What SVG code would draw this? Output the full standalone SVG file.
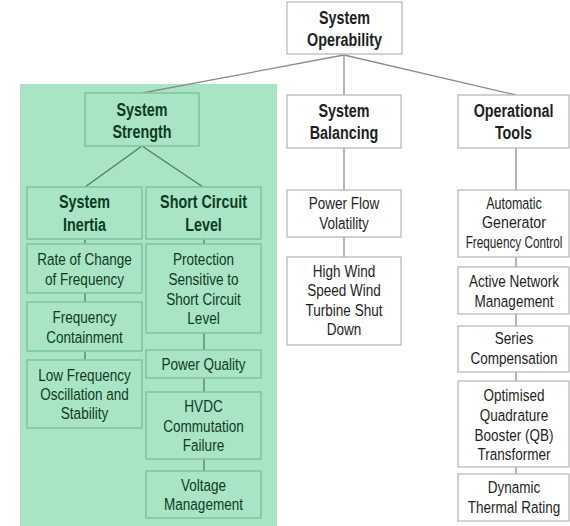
<svg xmlns="http://www.w3.org/2000/svg" width="570" height="526" viewBox="0 0 570 526">
<style>
text{font-family:"Liberation Sans",Arial,sans-serif;text-anchor:middle}
.h{font-size:17.5px;font-weight:bold}
.t{font-size:16.5px}
.w rect{fill:#ffffff;stroke:#b4b4b4;stroke-width:1.2}
.w text{fill:#1e1e1e}
.g rect{fill:#a9e4c5;stroke:#82c29e;stroke-width:1.5}
.g text{fill:#0c3b23}
.cw{stroke:#8c8c8c;stroke-width:1.3;fill:none}
.cg{stroke:#4d7f63;stroke-width:1.3;fill:none}
</style>
<rect x="0" y="0" width="570" height="526" fill="#ffffff"/>
<rect id="bg" x="20" y="84" width="257" height="442" fill="#a9e4c5"/>
<g id="connectors">
<line class="cw" x1="344" y1="55" x2="344" y2="95"/>
<line class="cw" x1="344" y1="55" x2="516" y2="95"/>
<line class="cw" x1="344" y1="55" x2="142" y2="93"/>
<line class="cg" x1="142" y1="146" x2="85" y2="187"/>
<line class="cg" x1="142" y1="146" x2="203" y2="187"/>
<line class="cg" x1="85" y1="239" x2="85" y2="244"/>
<line class="cg" x1="85" y1="293" x2="85" y2="302"/>
<line class="cg" x1="85" y1="351" x2="85" y2="360"/>
<line class="cg" x1="204" y1="239" x2="204" y2="244"/>
<line class="cg" x1="204" y1="333" x2="204" y2="350"/>
<line class="cg" x1="204" y1="378" x2="204" y2="392"/>
<line class="cg" x1="204" y1="459" x2="204" y2="471"/>
<line class="cw" x1="344" y1="148" x2="344" y2="190"/>
<line class="cw" x1="344" y1="237" x2="344" y2="257"/>
<line class="cw" x1="516" y1="148" x2="516" y2="190"/>
<line class="cw" x1="516" y1="257" x2="516" y2="267"/>
<line class="cw" x1="516" y1="314" x2="516" y2="326"/>
<line class="cw" x1="516" y1="372" x2="516" y2="381"/>
<line class="cw" x1="516" y1="467" x2="516" y2="474"/>
</g>
<g id="system-operability" class="w"><rect x="287" y="2" width="115" height="52"/><g transform="translate(344.5 0) scale(0.82 1)"><text class="h" x="0" y="24">System</text><text class="h" x="0" y="46">Operability</text></g></g>
<g id="system-strength" class="g"><rect x="85" y="93" width="114" height="53"/><g transform="translate(142 0) scale(0.82 1)"><text class="h" x="0" y="116">System</text><text class="h" x="0" y="138">Strength</text></g></g>
<g id="system-inertia" class="g"><rect x="27" y="187" width="115" height="52"/><g transform="translate(84.5 0) scale(0.82 1)"><text class="h" x="0" y="208">System</text><text class="h" x="0" y="231">Inertia</text></g></g>
<g id="short-circuit-level" class="g"><rect x="146" y="187" width="115" height="52"/><g transform="translate(203.5 0) scale(0.82 1)"><text class="h" x="0" y="208">Short Circuit</text><text class="h" x="0" y="231">Level</text></g></g>
<g id="rocof" class="g"><rect x="27" y="244" width="115" height="49"/><g transform="translate(84.5 0) scale(0.82 1)"><text class="t" x="0" y="265">Rate of Change</text><text class="t" x="0" y="285">of Frequency</text></g></g>
<g id="frequency-containment" class="g"><rect x="27" y="302" width="115" height="49"/><g transform="translate(84.5 0) scale(0.82 1)"><text class="t" x="0" y="323">Frequency</text><text class="t" x="0" y="343">Containment</text></g></g>
<g id="low-frequency" class="g"><rect x="27" y="360" width="115" height="68"/><g transform="translate(84.5 0) scale(0.82 1)"><text class="t" x="0" y="381">Low Frequency</text><text class="t" x="0" y="400">Oscillation and</text><text class="t" x="0" y="419">Stability</text></g></g>
<g id="protection" class="g"><rect x="146" y="244" width="115" height="89"/><g transform="translate(203.5 0) scale(0.82 1)"><text class="t" x="0" y="265">Protection</text><text class="t" x="0" y="285">Sensitive to</text><text class="t" x="0" y="305">Short Circuit</text><text class="t" x="0" y="324">Level</text></g></g>
<g id="power-quality" class="g"><rect x="146" y="350" width="115" height="28"/><g transform="translate(203.5 0) scale(0.82 1)"><text class="t" x="0" y="370">Power Quality</text></g></g>
<g id="hvdc" class="g"><rect x="146" y="392" width="115" height="67"/><g transform="translate(203.5 0) scale(0.82 1)"><text class="t" x="0" y="412">HVDC</text><text class="t" x="0" y="432">Commutation</text><text class="t" x="0" y="451">Failure</text></g></g>
<g id="voltage-management" class="g"><rect x="146" y="471" width="115" height="47"/><g transform="translate(203.5 0) scale(0.82 1)"><text class="t" x="0" y="491">Voltage</text><text class="t" x="0" y="510">Management</text></g></g>
<g id="system-balancing" class="w"><rect x="287" y="95" width="114" height="53"/><g transform="translate(344 0) scale(0.82 1)"><text class="h" x="0" y="117">System</text><text class="h" x="0" y="139">Balancing</text></g></g>
<g id="power-flow-volatility" class="w"><rect x="287" y="190" width="114" height="47"/><g transform="translate(344 0) scale(0.82 1)"><text class="t" x="0" y="209">Power Flow</text><text class="t" x="0" y="229">Volatility</text></g></g>
<g id="high-wind" class="w"><rect x="287" y="257" width="114" height="88"/><g transform="translate(344 0) scale(0.82 1)"><text class="t" x="0" y="277">High Wind</text><text class="t" x="0" y="296">Speed Wind</text><text class="t" x="0" y="316">Turbine Shut</text><text class="t" x="0" y="335">Down</text></g></g>
<g id="operational-tools" class="w"><rect x="458" y="95" width="111" height="53"/><g transform="translate(513.5 0) scale(0.82 1)"><text class="h" x="0" y="117">Operational</text><text class="h" x="0" y="139">Tools</text></g></g>
<g id="agc" class="w"><rect x="458" y="190" width="111" height="67"/><g transform="translate(514 0) scale(0.82 1)"><text class="t" x="0" y="209" textLength="68" lengthAdjust="spacingAndGlyphs">Automatic</text><text class="t" x="0" y="228" textLength="78" lengthAdjust="spacingAndGlyphs">Generator</text><text class="t" x="0" y="248" textLength="118" lengthAdjust="spacingAndGlyphs">Frequency Control</text></g></g>
<g id="active-network" class="w"><rect x="458" y="267" width="111" height="47"/><g transform="translate(514 0) scale(0.82 1)"><text class="t" x="0" y="287">Active Network</text><text class="t" x="0" y="307">Management</text></g></g>
<g id="series-compensation" class="w"><rect x="458" y="326" width="111" height="46"/><g transform="translate(514 0) scale(0.82 1)"><text class="t" x="0" y="344">Series</text><text class="t" x="0" y="364">Compensation</text></g></g>
<g id="optimised-qb" class="w"><rect x="458" y="381" width="111" height="86"/><g transform="translate(514 0) scale(0.82 1)"><text class="t" x="0" y="401">Optimised</text><text class="t" x="0" y="421">Quadrature</text><text class="t" x="0" y="441">Booster (QB)</text><text class="t" x="0" y="460">Transformer</text></g></g>
<g id="dynamic-thermal" class="w"><rect x="458" y="474" width="111" height="47"/><g transform="translate(514 0) scale(0.82 1)"><text class="t" x="0" y="493">Dynamic</text><text class="t" x="0" y="513">Thermal Rating</text></g></g>
</svg>
